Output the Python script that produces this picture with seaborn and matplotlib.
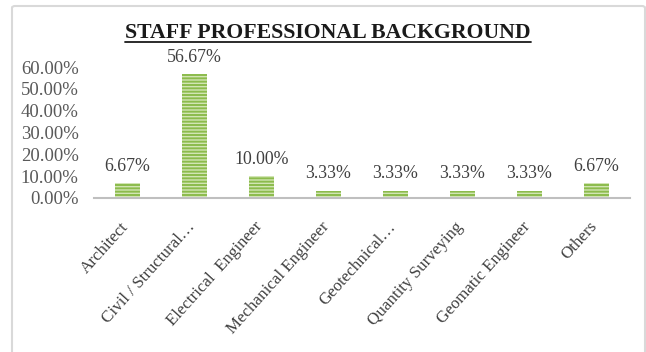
import matplotlib
matplotlib.use("Agg")
import matplotlib.pyplot as plt
import seaborn as sns
import pandas as pd
from matplotlib.patches import FancyBboxPatch
from matplotlib.lines import Line2D
from matplotlib.transforms import ScaledTranslation

categories = ["Architect", "Civil / Structural…", "Electrical  Engineer", "Mechanical Engineer",
              "Geotechnical…", "Quantity Surveying", "Geomatic Engineer", "Others"]
values = [6.67, 56.67, 10.00, 3.33, 3.33, 3.33, 3.33, 6.67]
yticks = [0, 10, 20, 30, 40, 50, 60]
title = "STAFF PROFESSIONAL BACKGROUND"

sns.set_theme(style="white")
plt.rcParams['font.family'] = ['Liberation Serif', 'DejaVu Serif']
plt.rcParams['hatch.linewidth'] = 1.4

df = pd.DataFrame({"cat": categories, "val": values})

fig = plt.figure(figsize=(6.46, 3.52), dpi=100)
W, H = 646, 352
ax = fig.add_axes([94 / W, 1 - 198 / H, (630 - 94) / W, (198 - 67) / H])

sns.barplot(data=df, x="cat", y="val", ax=ax, color="#d2e5b4", width=0.37,
            saturation=1, edgecolor="#8cbb4c", linewidth=0)
for p in ax.patches:
    p.set_hatch("-----")

ax.set_xlim(-0.5, len(categories) - 0.5)
ax.set_ylim(0, 60)
ax.set_yticks(yticks)
ax.set_yticklabels([f"{t:.2f}%" for t in yticks], fontsize=13.5, color="#595959")
ax.tick_params(axis="y", length=0, pad=11)
ax.tick_params(axis="x", length=0, pad=15)
ax.set_xticks(range(len(categories)))
ax.set_xticklabels(categories, rotation=48, ha="right", rotation_mode="anchor",
                   fontsize=12.2, color="#404040")
off = ScaledTranslation(-8 / 100, 0, fig.dpi_scale_trans)
for lab in ax.get_xticklabels():
    lab.set_transform(lab.get_transform() + off)
ax.set_xlabel("")
ax.set_ylabel("")
for s in ["top", "right", "left"]:
    ax.spines[s].set_visible(False)
ax.spines["bottom"].set_color("#bfbfbf")
ax.spines["bottom"].set_linewidth(1.5)
ax.grid(False)

for c in ax.containers:
    ax.bar_label(c, labels=[f"{v:.2f}%" for v in values], padding=6,
                 fontsize=12.8, color="#404040", clip_on=False)

t = fig.text(328 / W, 1 - 33 / H, title, ha="center", va="center",
             fontsize=15.7, fontweight="bold", color="#1a1a1a")
fig.canvas.draw()
bb = t.get_window_extent()
fig.add_artist(Line2D([bb.x0 / W, bb.x1 / W], [1 - 42 / H, 1 - 42 / H],
                      transform=fig.transFigure, color="#1a1a1a", lw=1.3))

border = FancyBboxPatch((12 / W, -0.05), (645 - 12) / W, (352 - 6) / H + 0.05,
                        boxstyle="round,pad=0,rounding_size=0.005",
                        transform=fig.transFigure, fill=False,
                        edgecolor="#d9d9d9", lw=1.5)
fig.add_artist(border)

fig.savefig("out.png", dpi=100)
